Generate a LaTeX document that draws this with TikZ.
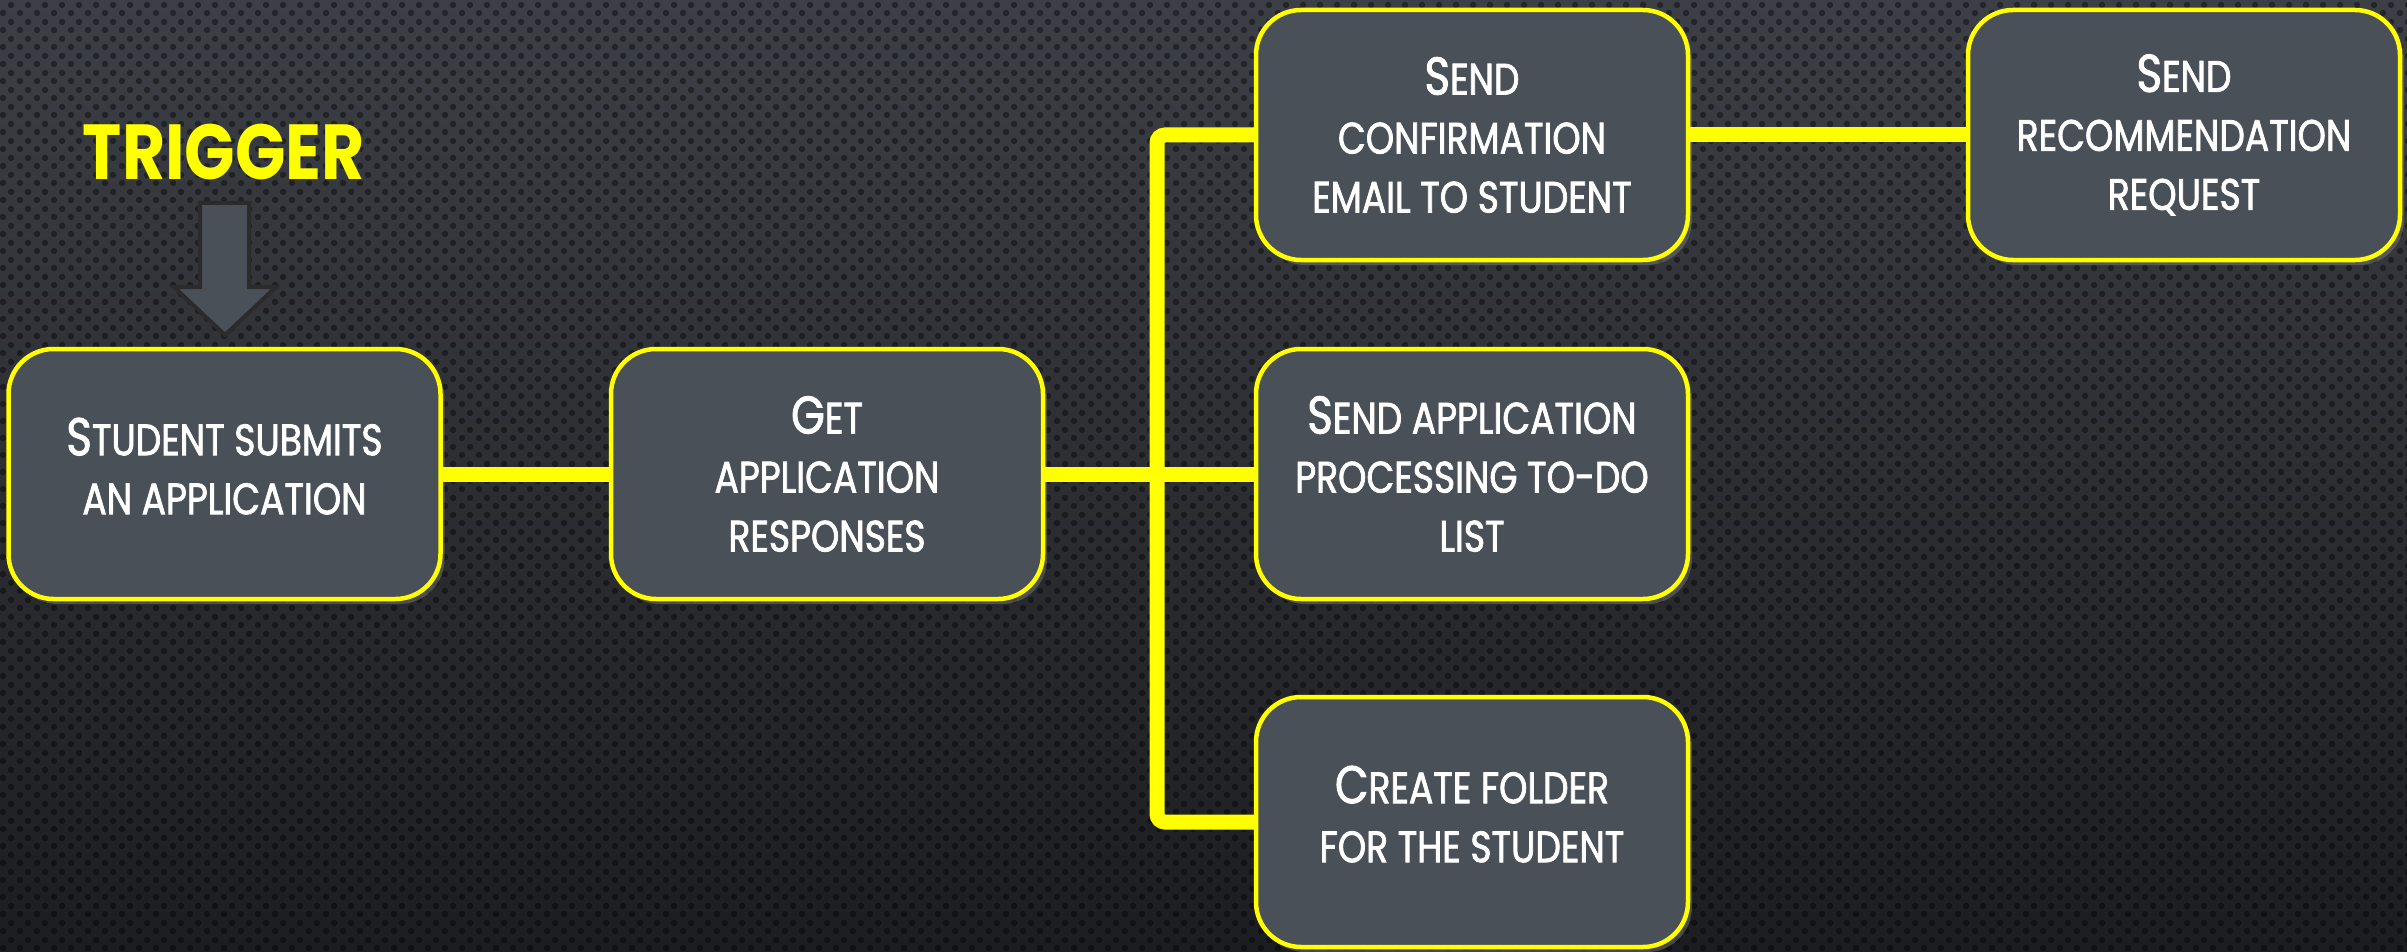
\documentclass[tikz,border=0pt]{standalone}
\usepackage{fontspec}
\setmainfont{Poppins}
\newfontfamily\trigfont{Poppins}[FakeStretch=0.85]
\newfontfamily\boxfont{Poppins}[FakeStretch=0.82,FakeBold=1.7]
\usetikzlibrary{shadows,patterns}
\definecolor{bgtop}{HTML}{3C3F45}
\definecolor{bgbot}{HTML}{1C1D20}
\definecolor{boxfill}{HTML}{4A5058}
\definecolor{hilite}{HTML}{FFFF00}
\definecolor{arrowline}{HTML}{2B2B2B}
\pgfdeclarepatternformonly{dotgrid}{\pgfpointorigin}{\pgfqpoint{17pt}{17pt}}{\pgfqpoint{17pt}{17pt}}{%
  \pgfpathcircle{\pgfqpoint{4.25pt}{4.25pt}}{3.4pt}%
  \pgfpathcircle{\pgfqpoint{12.75pt}{12.75pt}}{3.4pt}%
  \pgfusepath{fill}}
\newcommand{\initcap}[1]{{\fontsize{53}{58}\selectfont #1}}
\tikzset{
  stepbox/.style={draw=hilite, line width=4.5pt, fill=boxfill, rounded corners=45pt,
    minimum width=432pt, minimum height=250pt, align=center, text=white,
    font=\boxfont\fontsize{44}{59}\selectfont,
    drop shadow={opacity=0.45, shadow xshift=4pt, shadow yshift=-5pt}},
  twoline/.style={text depth=16pt},
  link/.style={draw=hilite, line width=15pt},
}
\begin{document}
\begin{tikzpicture}[x=1pt,y=-1pt]
\useasboundingbox (0,0) rectangle (2407,952);
\shade[top color=bgtop, bottom color=bgbot] (0,0) rectangle (2407,952);
\fill[pattern=dotgrid, pattern color=black, opacity=0.4] (0,0) rectangle (2407,952);

\node[text=hilite, font=\trigfont\bfseries\fontsize{78}{78}\selectfont] (trig) at (224,152) {TRIGGER};

\node[stepbox, twoline] (b1) at (224.5,474) {\initcap{S}TUDENT SUBMITS\\AN APPLICATION};
\node[stepbox] (b2) at (827,474) {\initcap{G}ET\\APPLICATION\\RESPONSES};
\node[stepbox] (b3) at (1472,135) {\initcap{S}END\\CONFIRMATION\\EMAIL TO STUDENT};
\node[stepbox] (b4) at (2184,135) {\initcap{S}END\\RECOMMENDATION\\REQUEST};
\node[stepbox] (b5) at (1472,474) {\initcap{S}END APPLICATION\\PROCESSING TO-DO\\LIST};
\node[stepbox, twoline] (b6) at (1472,822) {\initcap{C}REATE FOLDER\\FOR THE STUDENT};

\coordinate (jn) at (1157,474);

% block arrow from trigger to first step
\filldraw[fill=boxfill, draw=arrowline, line width=4pt, line join=miter]
  (200,203) -- (249,203) -- (249,287) -- (276,287) -- (225,335) -- (174,287) -- (200,287) -- cycle;

\draw[link] (b1.east) -- (b2.west);
\draw[link] (b2.east) -- (b5.west);
\draw[link, rounded corners=8pt] (b3.west) -| (jn) |- (b6.west);
\draw[link] (b3.east) -- (b4.west);
\end{tikzpicture}
\end{document}
